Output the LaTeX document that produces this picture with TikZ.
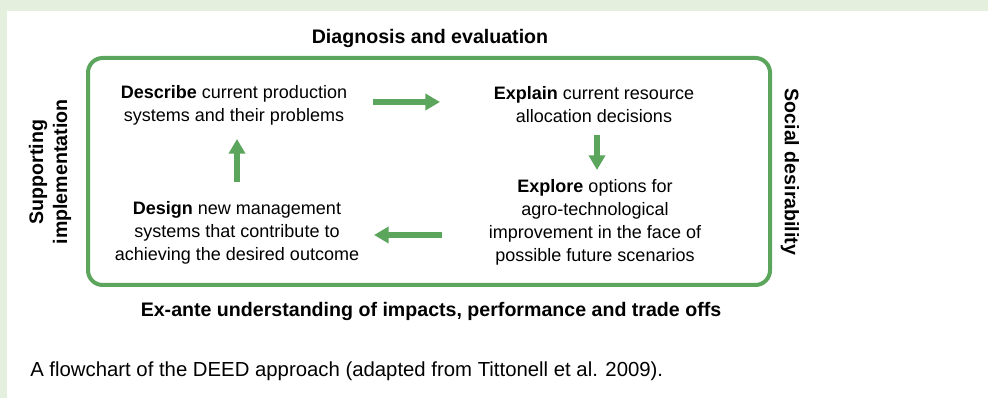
\documentclass[tikz,border=0pt]{standalone}
\usepackage{fontspec}
\setmainfont{Liberation Sans}
\usetikzlibrary{arrows.meta}
\definecolor{deedgreen}{RGB}{92,165,92}
\definecolor{panelgreen}{RGB}{228,240,221}

\begin{document}
\begin{tikzpicture}[x=0.75pt,y=-0.75pt,
        steptext/.style={align=center,inner sep=0pt,font=\fontsize{13.5}{17.25}\selectfont},
        sidelabel/.style={align=center,inner sep=0pt,font=\fontsize{14.7}{18}\selectfont\bfseries},
        flow/.style={deedgreen,line width=4pt,-{Triangle[width=12pt,length=11pt]}}]
        \fill[panelgreen](0,0)rectangle(988,398);
        \fill[white](7,11)rectangle(988,398);
        \useasboundingbox(0,0)rectangle(988,398);
        \draw[deedgreen,line width=3pt,rounded corners=11pt](88,58)rectangle(770,285);
        \node[steptext](describe)at(234,105){\textbf{Describe} current production\\systems and their problems};
        \node[steptext](explain)at(594,105){\textbf{Explain} current resource\\allocation decisions};
        \node[steptext](explore)at(595,222){\textbf{Explore} options for\\agro-technological\\improvement in the face of\\possible future scenarios};
        \node[steptext](design)at(237,233){\textbf{Design} new management\\systems that contribute to\\achieving the desired outcome};
        \node[sidelabel](diag)at(430,38){Diagnosis and evaluation};
        \node[sidelabel](exante)at(431,311){Ex-ante understanding of impacts, performance and trade offs};
        \node[sidelabel,rotate=90](supp)at(50,172){Supporting\\implementation};
        \node[sidelabel,rotate=-90](social)at(790,172){Social desirability};
        \node[anchor=base west,inner sep=0pt,font=\fontsize{15.25}{18}\selectfont](caption)at(30,377){A flowchart of the DEED approach (adapted from Tittonell et al. 2009).};
        % arrow ends
        \coordinate(d1)at(373,102);
        \coordinate(e1)at(440,102);
        \coordinate(e2)at(597,135);
        \coordinate(x1)at(597,170);
        \coordinate(x2)at(442,235);
        \coordinate(g1)at(374,235);
        \coordinate(g2)at(237,182);
        \coordinate(d2)at(237,139);
        \draw[flow](d1)--(e1);
        \draw[flow](e2)--(x1);
        \draw[flow](x2)--(g1);
        \draw[flow](g2)--(d2);
\end{tikzpicture}
\end{document}
